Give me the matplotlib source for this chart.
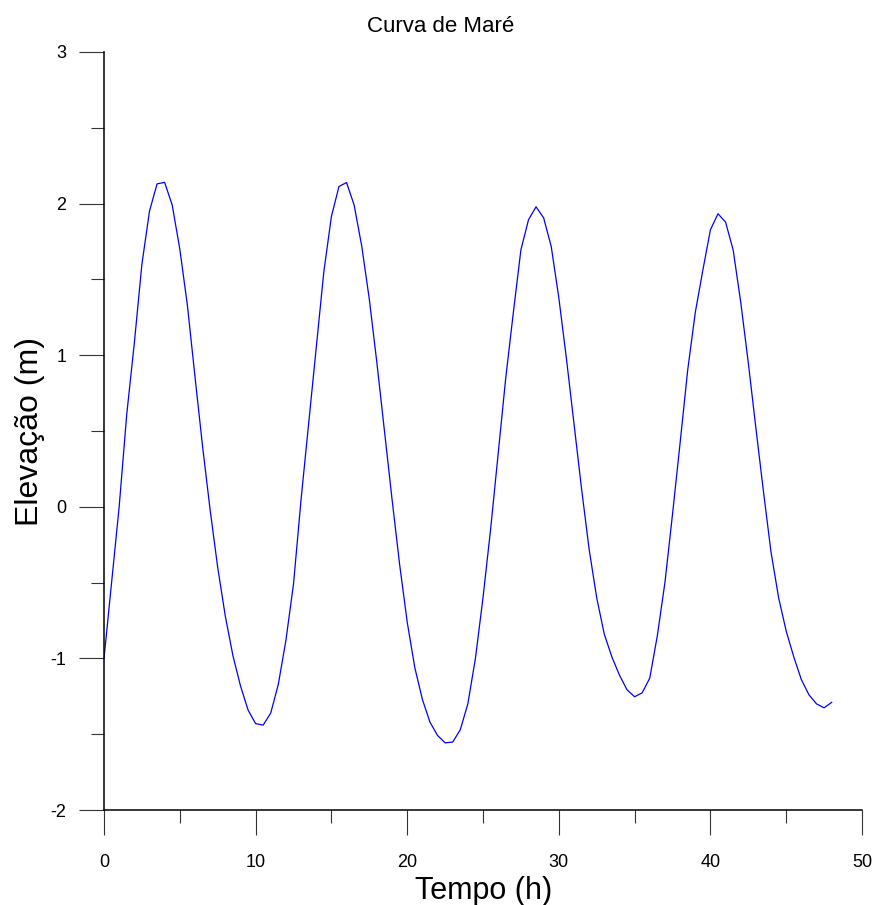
import matplotlib
matplotlib.use('Agg')

import matplotlib.pyplot as plt
from matplotlib.ticker import MultipleLocator

plt.rcParams['axes.unicode_minus'] = False

# tide curve, one value every half hour
tempo = [i * 0.5 for i in range(97)]
elevacao = [
    -1.00, -0.50, 0.00, 0.61, 1.08, 1.60, 1.95, 2.13, 2.14, 1.99,   # 0 - 4.5
    1.70, 1.33, 0.86, 0.40, -0.02, -0.40, -0.72, -0.98, -1.18, -1.34,  # 5 - 9.5
    -1.43, -1.44, -1.36, -1.17, -0.88, -0.51, 0.05, 0.55, 1.05, 1.55,  # 10 - 14.5
    1.915, 2.113, 2.139, 1.99, 1.72, 1.37, 0.95, 0.50, 0.05, -0.38,   # 15 - 19.5
    -0.76, -1.06, -1.27, -1.42, -1.508, -1.557, -1.552, -1.471, -1.30, -1.00,  # 20 - 24.5
    -0.60, -0.15, 0.35, 0.85, 1.28, 1.695, 1.893, 1.979, 1.906, 1.717,  # 25 - 29.5
    1.38, 0.98, 0.55, 0.12, -0.28, -0.60, -0.84, -0.99, -1.11, -1.207,  # 30 - 34.5
    -1.253, -1.227, -1.13, -0.85, -0.50, -0.05, 0.42, 0.90, 1.28, 1.56,  # 35 - 39.5
    1.827, 1.933, 1.878, 1.695, 1.35, 0.95, 0.52, 0.10, -0.30, -0.60,  # 40 - 44.5
    -0.82, -0.99, -1.14, -1.24, -1.30, -1.326, -1.29,                 # 45 - 48
]

fig = plt.figure(figsize=(8.76, 9.05), dpi=100)
ax = fig.add_axes([104 / 876, 1 - 810 / 905, 758 / 876, 758 / 905])

ax.plot(tempo, elevacao, color='#0000ff', linewidth=0.9)

ax.set_xlim(0, 50)
ax.set_ylim(-2, 3)
ax.xaxis.set_major_locator(MultipleLocator(10))
ax.xaxis.set_minor_locator(MultipleLocator(5))
ax.yaxis.set_major_locator(MultipleLocator(1))
ax.yaxis.set_minor_locator(MultipleLocator(0.5))

for s in ['top', 'right']:
    ax.spines[s].set_visible(False)
for s in ['left', 'bottom']:
    ax.spines[s].set_linewidth(1.1)

ax.tick_params(which='major', direction='out', length=18, width=0.8, color='#333333')
ax.tick_params(which='minor', direction='out', length=9.4, width=0.8, color='#333333')
ax.tick_params(axis='x', which='major', pad=14)
ax.tick_params(axis='y', which='major', pad=9)

for lbl in ax.get_xticklabels() + ax.get_yticklabels():
    lbl.set_fontfamily('Liberation Sans')
    lbl.set_fontsize(13)

fig.text(441 / 876, 1 - 27 / 905, 'Curva de Maré', ha='center', va='center',
         fontsize=16, family='Liberation Sans')
fig.text(484 / 876, 1 - 899 / 905, 'Tempo (h)', ha='center', va='baseline',
         fontsize=22, family='Liberation Sans')
fig.text(30 / 876, 1 - 431 / 905, 'Elevação (m)', ha='center', va='center',
         rotation=90, fontsize=23, family='Liberation Sans')

plt.savefig('out.png', dpi=100)
plt.close()
